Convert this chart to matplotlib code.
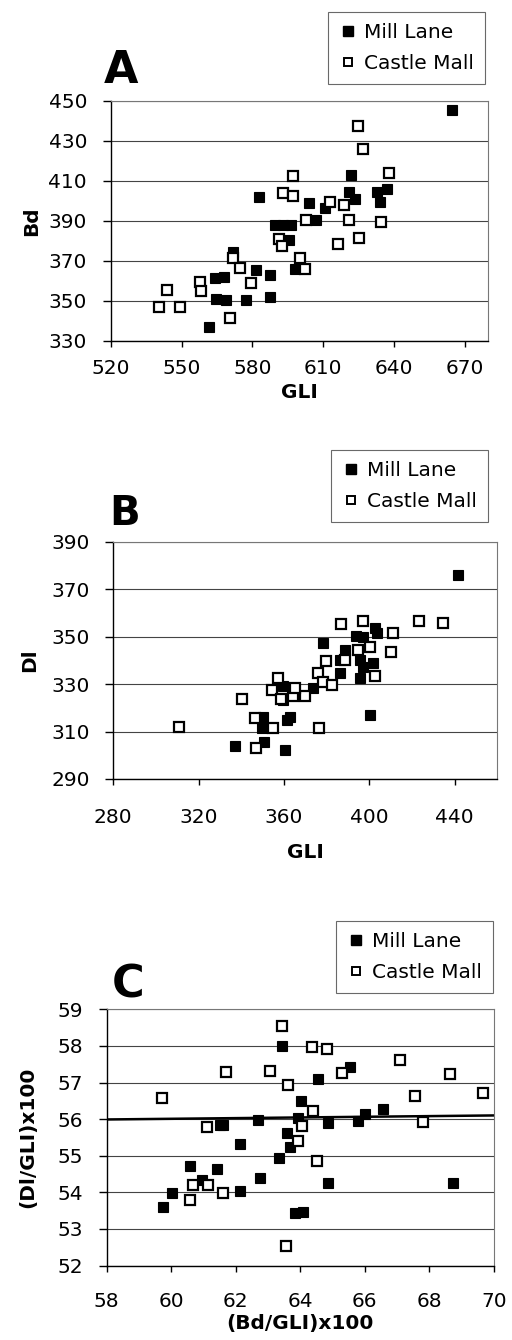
import numpy as np
import matplotlib
matplotlib.use("Agg")
import matplotlib.pyplot as plt
from matplotlib.lines import Line2D

plt.rcParams['font.family'] = ['DejaVu Sans']

# Panel A: GLI vs Bd
a_mill_x = [583, 589.5, 593, 596.5, 595.7, 604, 607, 611, 598, 622, 621, 623.6, 633, 637, 634,
            664.5, 564, 568, 572, 581.7, 587.3, 564.5, 569, 577.5, 587.6, 561.7]
a_mill_y = [402, 388, 388, 388, 380.5, 399, 390.5, 396.5, 366, 413, 404.7, 401, 404.7, 405.8, 399.7,
            445.5, 361.3, 362.2, 374.7, 365.5, 363, 351, 350.5, 350.5, 351.8, 337]
a_castle_x = [593.2, 597.1, 597.4, 591.5, 592.7, 571.8, 574.6, 557.7, 543.7, 558.3, 540.5, 549.3, 570.4,
              579.6, 624.6, 626.7, 638, 619, 621.1, 625, 616.2, 634.5, 602.8, 612.9, 600.3, 602.5]
a_castle_y = [403.8, 402.5, 412.5, 381, 377.5, 371.3, 366.3, 359.7, 355.5, 355.2, 346.8, 346.8, 341.7,
              358.8, 437.5, 425.8, 413.8, 398, 390.5, 381.7, 378.5, 389.7, 390.5, 399.3, 371.3, 365.8]

# Panel B: GLI vs Dl
b_mill_x = [337, 350.6, 350, 349.5, 359.6, 361.2, 360.4, 441.6, 402.6, 403.4, 394, 397.1, 378.1,
            388.5, 386.2, 395.6, 401.8, 397.1, 395.6, 386.2, 373.7, 359.6, 362.8, 400.2]
b_mill_y = [303.7, 305.8, 316.3, 311.4, 329, 314.9, 302.3, 376, 353.5, 351.4, 350.3, 350, 347.2,
            344.4, 340.2, 340.2, 338.8, 337.4, 332.5, 334.6, 328.3, 323.3, 316.3, 317]
b_castle_x = [310.8, 340.4, 346.8, 346.4, 354.9, 357.3, 354.2, 358.4, 423.3, 434.6, 386.6, 397.1, 411.1,
              410.4, 394.8, 400.2, 379.6, 388.5, 402.6, 376, 378.4, 382.3, 369.8, 364.3, 365.1, 376.5]
b_castle_y = [312.1, 323.6, 303, 315.6, 311.4, 332.5, 327.6, 323.6, 356.7, 355.9, 355.2, 356.7, 351.4,
              343.7, 344.4, 345.8, 339.8, 340.2, 333.6, 334.6, 331, 329.7, 325, 325, 328.3, 311.7]

# Panel C: (Bd/GLI)x100 vs (Dl/GLI)x100
c_mill_x = [63.45, 61.62, 62.7, 62.13, 60.59, 61.41, 60.95, 62.13, 62.75, 60.02, 59.76, 63.35, 63.58,
            63.68, 65.54, 64.56, 64.01, 66.57, 66.0, 65.8, 64.87, 63.94, 64.87, 68.74, 63.84, 64.07, 61.5]
c_mill_y = [58.01, 55.84, 55.98, 55.31, 54.73, 54.63, 54.34, 54.04, 54.38, 53.97, 53.61, 54.95, 55.61,
            55.25, 57.43, 57.09, 56.5, 56.27, 56.14, 55.96, 55.9, 56.02, 54.26, 54.25, 53.43, 53.47, 55.84]
c_castle_x = [59.71, 61.69, 63.06, 63.45, 63.61, 61.1, 60.69, 61.15, 61.6, 60.59, 64.35, 64.82, 67.09,
              68.63, 65.28, 67.55, 69.65, 64.4, 67.79, 64.04, 63.94, 64.51, 63.57]
c_castle_y = [56.58, 57.28, 57.32, 58.54, 56.93, 55.79, 54.2, 54.2, 53.97, 53.79, 57.96, 57.91, 57.61,
              57.23, 57.25, 56.63, 56.7, 56.23, 55.93, 55.81, 55.41, 54.86, 52.53]
c_trend_x = [58, 70]
c_trend_y = [55.99, 56.1]

W, H = 512, 1340
fig = plt.figure(figsize=(W / 100, H / 100), dpi=100)


def px_axes(l, t, r, b):
    return fig.add_axes([l / W, 1 - b / H, (r - l) / W, (b - t) / H])


def style(ax, box, xlim, xticks, ylim, yticks, xlabel, ylabel, xpad, xlab_y, ylab_x):
    l, t, r, b = box
    ax.set_xlim(*xlim)
    ax.set_ylim(*ylim)
    ax.set_xticks(xticks)
    ax.set_yticks(yticks)
    ax.yaxis.grid(True, color='#444444', lw=0.8)
    ax.set_axisbelow(True)
    for s in ['top', 'right']:
        ax.spines[s].set_color('#777777')
        ax.spines[s].set_linewidth(0.8)
    for s in ['left', 'bottom']:
        ax.spines[s].set_color('black')
        ax.spines[s].set_linewidth(1.0)
    ax.tick_params(axis='both', labelsize=14.5, direction='out', width=1.0)
    ax.tick_params(axis='y', length=6, pad=11)
    ax.tick_params(axis='x', length=4, pad=xpad)
    ax.set_xlabel(xlabel, fontsize=14.5, fontweight='bold', va='center', ha='center')
    ax.set_ylabel(ylabel, fontsize=14.5, fontweight='bold', va='center', ha='center')
    ax.xaxis.set_label_coords(0.5, (b - xlab_y) / (b - t))
    ax.yaxis.set_label_coords((ylab_x - l) / (r - l), 0.5)


def scatter(ax, mx, my, cx, cy):
    ax.plot(mx, my, ls='none', marker='s', ms=7.3, mfc='black', mec='black', mew=0.8, zorder=3)
    ax.plot(cx, cy, ls='none', marker='s', ms=6.8, mfc='white', mec='black', mew=1.6, zorder=4)


def legend(ax, x_right, y_top):
    handles = [Line2D([], [], ls='none', marker='s', ms=6.5, mfc='black', mec='black'),
               Line2D([], [], ls='none', marker='s', ms=6, mfc='white', mec='black', mew=1.4)]
    leg = ax.legend(handles, ['Mill Lane', 'Castle Mall'], loc='upper right',
                    bbox_to_anchor=(x_right / W, 1 - y_top / H), bbox_transform=fig.transFigure,
                    fontsize=14.5, frameon=True, fancybox=False, handlelength=0.9,
                    handletextpad=0.35, borderpad=0.55, labelspacing=0.6, borderaxespad=0)
    leg.get_frame().set_edgecolor('#444444')
    leg.get_frame().set_linewidth(0.8)


# Panel A
boxA = (110.7, 101, 488.3, 341)
axA = px_axes(*boxA)
scatter(axA, a_mill_x, a_mill_y, a_castle_x, a_castle_y)
style(axA, boxA, (520, 680), np.arange(520, 671, 30), (330, 450), np.arange(330, 451, 20),
      'GLI', 'Bd', 9, 393, 32)
legend(axA, 485, 11.7)
fig.text(104 / W, 1 - 83 / H, 'A', fontsize=32, fontweight='bold', ha='left', va='baseline')

# Panel B
boxB = (113.3, 541.7, 497.3, 779)
axB = px_axes(*boxB)
scatter(axB, b_mill_x, b_mill_y, b_castle_x, b_castle_y)
style(axB, boxB, (280, 460), np.arange(280, 441, 40), (290, 390), np.arange(290, 391, 20),
      'GLI', 'Dl', 17, 852, 30)
legend(axB, 488.3, 450)
fig.text(109 / W, 1 - 525 / H, 'B', fontsize=29, fontweight='bold', ha='left', va='baseline')

# Panel C
boxC = (106.5, 1009.3, 494, 1265.5)
axC = px_axes(*boxC)
scatter(axC, c_mill_x, c_mill_y, c_castle_x, c_castle_y)
axC.plot(c_trend_x, c_trend_y, color='black', lw=1.8, zorder=2)
style(axC, boxC, (58, 70), np.arange(58, 71, 2), (52, 59), np.arange(52, 60, 1),
      '(Bd/GLI)x100', '(Dl/GLI)x100', 15, 1323, 28)
legend(axC, 493.3, 920.7)
fig.text(112 / W, 1 - 998 / H, 'C', fontsize=32, fontweight='bold', ha='left', va='baseline')

fig.savefig('out.png', dpi=100)
